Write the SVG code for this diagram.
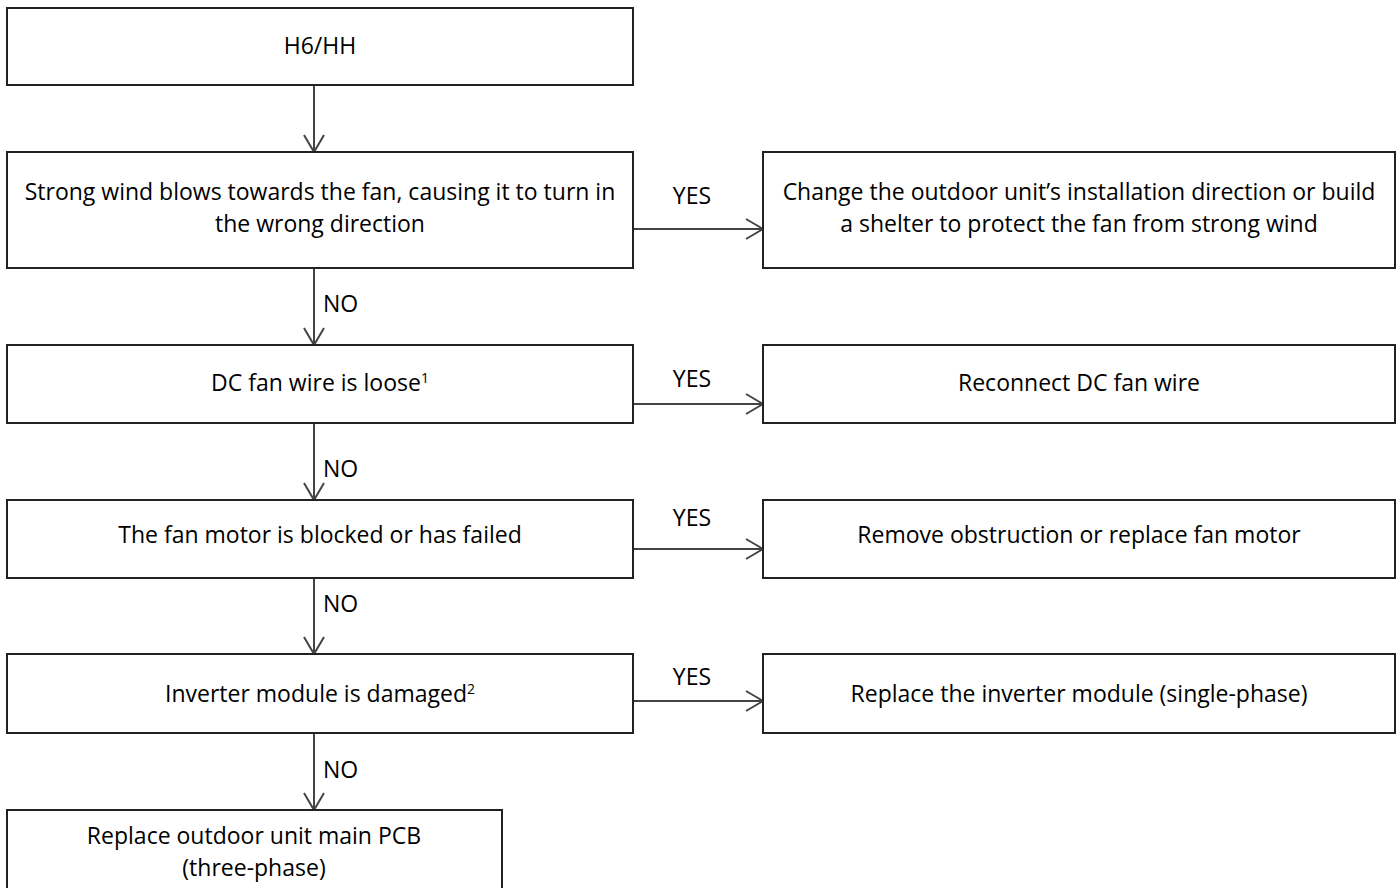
<svg xmlns="http://www.w3.org/2000/svg" width="1400" height="888" viewBox="0 0 1400 888">
<style>
.box{fill:#fff;stroke:#222;stroke-width:2}
.t{font-family:"Open Sans","Liberation Sans",sans-serif;font-size:23px;fill:#000;text-anchor:middle}
.lbl{font-family:"Open Sans","Liberation Sans",sans-serif;font-size:23px;fill:#000}
.c{stroke:#444;stroke-width:2;fill:none;marker-end:url(#arr)}
.sup{font-size:14px}
</style>
<defs>
<marker id="arr" viewBox="0 0 18 20" refX="17" refY="10" markerWidth="18" markerHeight="20" markerUnits="userSpaceOnUse" orient="auto" overflow="visible">
<path d="M0,0 L17,10 L0,20" fill="none" stroke="#444" stroke-width="2"/>
</marker>
</defs>
<rect width="1400" height="888" fill="#fff"/>
<g id="connectors">
<line class="c" x1="314" y1="85" x2="314" y2="152"/>
<line class="c" x1="314" y1="268" x2="314" y2="345"/>
<line class="c" x1="314" y1="423" x2="314" y2="500"/>
<line class="c" x1="314" y1="578" x2="314" y2="654"/>
<line class="c" x1="314" y1="733" x2="314" y2="810"/>
<line class="c" x1="633" y1="229" x2="763" y2="229"/>
<line class="c" x1="633" y1="404" x2="763" y2="404"/>
<line class="c" x1="633" y1="549" x2="763" y2="549"/>
<line class="c" x1="633" y1="701" x2="763" y2="701"/>
<text class="lbl" x="323" y="312">NO</text>
<text class="lbl" x="323" y="477">NO</text>
<text class="lbl" x="323" y="612">NO</text>
<text class="lbl" x="323" y="778">NO</text>
<text class="lbl" x="692" y="204" text-anchor="middle">YES</text>
<text class="lbl" x="692" y="387" text-anchor="middle">YES</text>
<text class="lbl" x="692" y="526" text-anchor="middle">YES</text>
<text class="lbl" x="692" y="685" text-anchor="middle">YES</text>
</g>
<g id="n1">
<rect class="box" x="7" y="8" width="626" height="77"/>
<text class="t" x="320" y="54">H6/HH</text>
</g>
<g id="n2">
<rect class="box" x="7" y="152" width="626" height="116"/>
<text class="t" x="320" y="200">Strong wind blows towards the fan, causing it to turn in</text>
<text class="t" x="320" y="232">the wrong direction</text>
</g>
<g id="n2y">
<rect class="box" x="763" y="152" width="632" height="116"/>
<text class="t" x="1079" y="200">Change the outdoor unit’s installation direction or build</text>
<text class="t" x="1079" y="232">a shelter to protect the fan from strong wind</text>
</g>
<g id="n3">
<rect class="box" x="7" y="345" width="626" height="78"/>
<text class="t" x="320" y="391">DC fan wire is loose<tspan class="sup" dy="-8">1</tspan></text>
</g>
<g id="n3y">
<rect class="box" x="763" y="345" width="632" height="78"/>
<text class="t" x="1079" y="391">Reconnect DC fan wire</text>
</g>
<g id="n4">
<rect class="box" x="7" y="500" width="626" height="78"/>
<text class="t" x="320" y="543">The fan motor is blocked or has failed</text>
</g>
<g id="n4y">
<rect class="box" x="763" y="500" width="632" height="78"/>
<text class="t" x="1079" y="543">Remove obstruction or replace fan motor</text>
</g>
<g id="n5">
<rect class="box" x="7" y="654" width="626" height="79"/>
<text class="t" x="320" y="702">Inverter module is damaged<tspan class="sup" dy="-8">2</tspan></text>
</g>
<g id="n5y">
<rect class="box" x="763" y="654" width="632" height="79"/>
<text class="t" x="1079" y="702">Replace the inverter module (single-phase)</text>
</g>
<g id="n6">
<rect class="box" x="7" y="810" width="495" height="100"/>
<text class="t" x="254" y="844">Replace outdoor unit main PCB</text>
<text class="t" x="254" y="876">(three-phase)</text>
</g>
</svg>
